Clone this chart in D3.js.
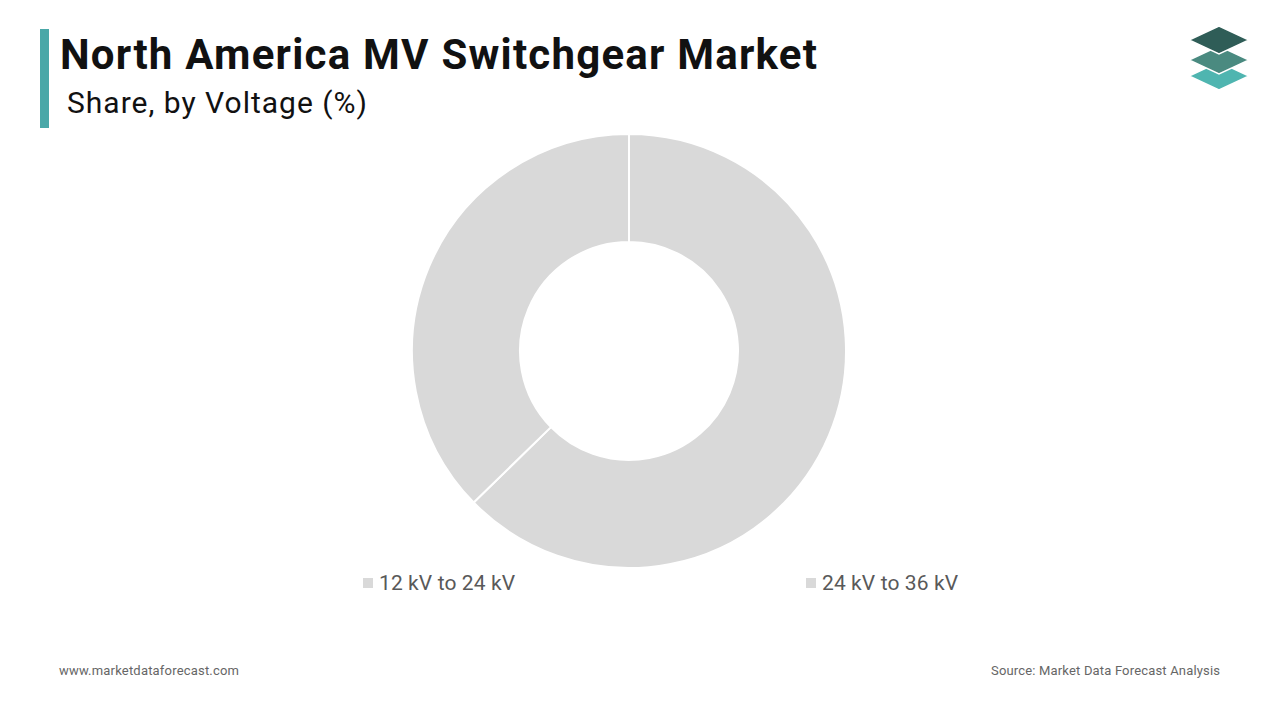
<!DOCTYPE html>
<html><head><meta charset="utf-8">
<script src="https://cdn.jsdelivr.net/npm/d3@7"></script>
<style>body{margin:0;background:#fff;font-family:Roboto,"Noto Sans",sans-serif}</style>
</head><body>
<svg id="chart" width="1280" height="720"></svg>
<script>
// values
var categories = ["12 kV to 24 kV", "24 kV to 36 kV"]
var shares = [62.7, 37.3]
var colors = ["#d9d9d9", "#d9d9d9"]

var svg = d3.select("#chart")

svg.append("rect").attr("x", 40).attr("y", 29).attr("width", 9).attr("height", 99).attr("fill", "#4aa8a8")
svg.append("text").attr("x", 60).attr("y", 69).attr("font-size", 42).attr("font-weight", 700)
    .attr("fill", "#111").attr("textLength", 757).text("North America MV Switchgear Market")
svg.append("text").attr("x", 67).attr("y", 113).attr("font-size", 30)
    .attr("fill", "#111").attr("textLength", 300).text("Share, by Voltage (%)")

// logo
var logo = svg.append("g").attr("transform", "translate(1219,0)")
function diamond(cy, fill) {
    logo.append("path").attr("d", `M0,${cy-14} L30,${cy} L0,${cy+14} L-30,${cy} Z`)
        .attr("fill", fill).attr("stroke", "#fff").attr("stroke-width", 1.5)
}
diamond(76, "#4fb5b0")
diamond(60, "#4a8a80")
diamond(40, "#2f5d57")

var pie = d3.pie().sort(null).value(d => d)
var arc = d3.arc().innerRadius(109).outerRadius(217)
svg.append("g").attr("transform", "translate(629,351)")
    .selectAll("path").data(pie(shares)).enter().append("path")
    .attr("d", arc).attr("fill", (d, i) => colors[i])
    .attr("stroke", "#fff").attr("stroke-width", 2)

var legendX = [363, 806]
var legend = svg.selectAll(".lg").data(categories).enter().append("g")
    .attr("transform", (d, i) => "translate(" + legendX[i] + ",583)")
legend.append("rect").attr("x", 0).attr("y", -5).attr("width", 10).attr("height", 10).attr("fill", (d, i) => colors[i])
legend.append("text").attr("x", 16).attr("y", 7).attr("font-size", 21).attr("fill", "#595959")
    .attr("textLength", 136).text(d => d)

svg.append("text").attr("x", 59).attr("y", 675).attr("font-size", 13).attr("fill", "#666")
    .attr("textLength", 180).text("www.marketdataforecast.com")
svg.append("text").attr("x", 991).attr("y", 675).attr("font-size", 13).attr("fill", "#666")
    .attr("textLength", 229).text("Source: Market Data Forecast Analysis")
</script>
</body></html>
